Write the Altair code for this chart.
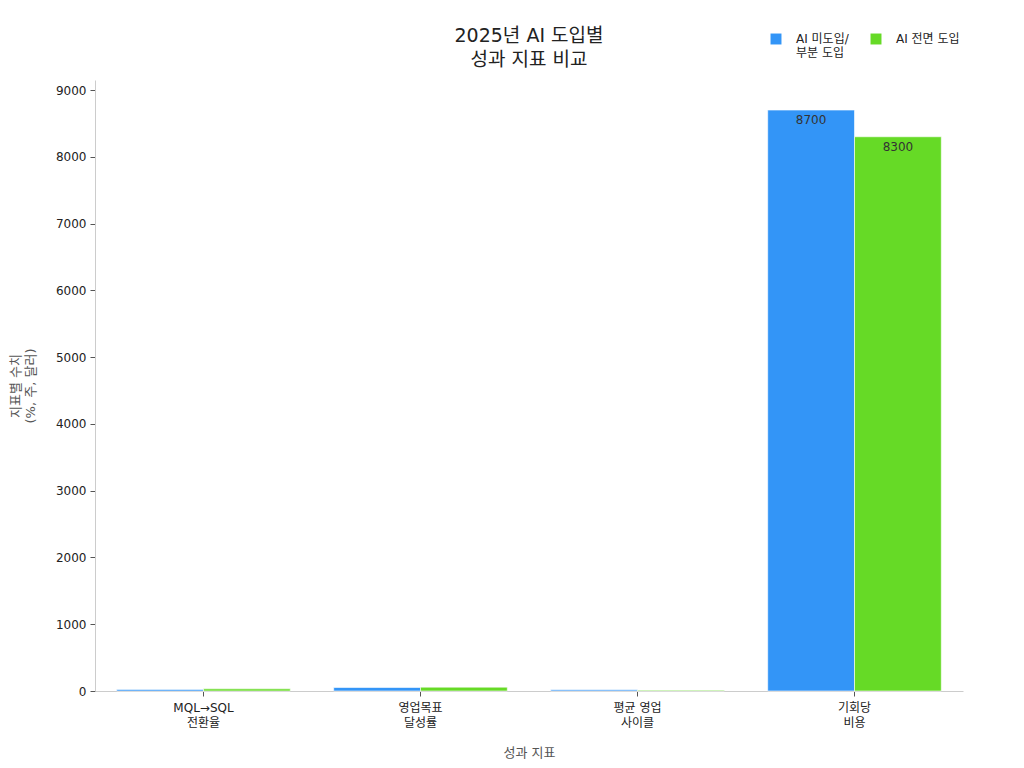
import altair as alt
import pandas as pd

categories = ["MQL→SQL\n전환율", "영업목표\n달성률", "평균 영업\n사이클", "기회당\n비용"]
groups = ["AI 미도입/부분 도입", "AI 전면 도입"]
values_partial = [24, 52, 18, 8700]
values_full = [32, 58, 12, 8300]

rows = []
for c, a, b in zip(categories, values_partial, values_full):
    rows.append({"metric": c, "group": groups[0], "value": a})
    rows.append({"metric": c, "group": groups[1], "value": b})
df = pd.DataFrame(rows)

FONT = "DejaVu Sans, Noto Sans CJK KR"

x = alt.X("metric:N", sort=categories, title="성과 지표",
          scale=alt.Scale(paddingInner=0.2, paddingOuter=0.1),
          axis=alt.Axis(labelAngle=0, labelExpr="split(datum.label, '\\n')",
                        labelLineHeight=15, labelPadding=6, titlePadding=18))
xo = alt.XOffset("group:N", sort=groups, scale=alt.Scale(paddingInner=0, paddingOuter=0))
y = alt.Y("value:Q", title=["지표별 수치", "(%, 주, 달러)"],
          scale=alt.Scale(domain=[0, 9150], nice=False),
          axis=alt.Axis(values=list(range(0, 9001, 1000)), format="d", grid=False, titlePadding=18))

color = alt.Color("group:N", sort=groups, title=None,
                  scale=alt.Scale(domain=groups, range=["#3395F7", "#66DA26"]),
                  legend=alt.Legend(orient="none", direction="horizontal",
                                    legendX=675, legendY=-47,
                                    symbolType="square", symbolSize=120,
                                    symbolStrokeWidth=0, columnPadding=21,
                                    labelFontSize=12, labelColor="#222", labelOffset=14,
                                    labelExpr="datum.label == 'AI 미도입/부분 도입' ? ['AI 미도입/', '부분 도입'] : [datum.label, ' ']"))

bars = alt.Chart(df).mark_bar(stroke="white", strokeWidth=0.6).encode(
    x=x, xOffset=xo, y=y, color=color)

labels = alt.Chart(df).transform_filter("datum.value > 1000").mark_text(
    baseline="top", dy=5, fontSize=12, color="#333", font=FONT
).encode(x=x, xOffset=xo, y=y, text=alt.Text("value:Q", format="d"))

chart = alt.layer(bars, labels).properties(
    width=868, height=611,
    padding={"left": 1, "right": 5, "top": 19, "bottom": 5},
    title=alt.Title(["2025년 AI 도입별", "성과 지표 비교"], fontSize=19,
                    fontWeight="normal", color="#222", anchor="middle",
                    lineHeight=24, offset=4, dy=41)
).configure(font=FONT).configure_view(stroke=None).configure_axis(
    labelFontSize=12, labelColor="#222", titleFontSize=13, titleColor="#555",
    titleFontWeight="normal", domainColor="#ccc", tickColor="#555", tickSize=5,
    labelPadding=4
)

chart.save("out.html", embed_options={"renderer": "svg", "actions": False})
